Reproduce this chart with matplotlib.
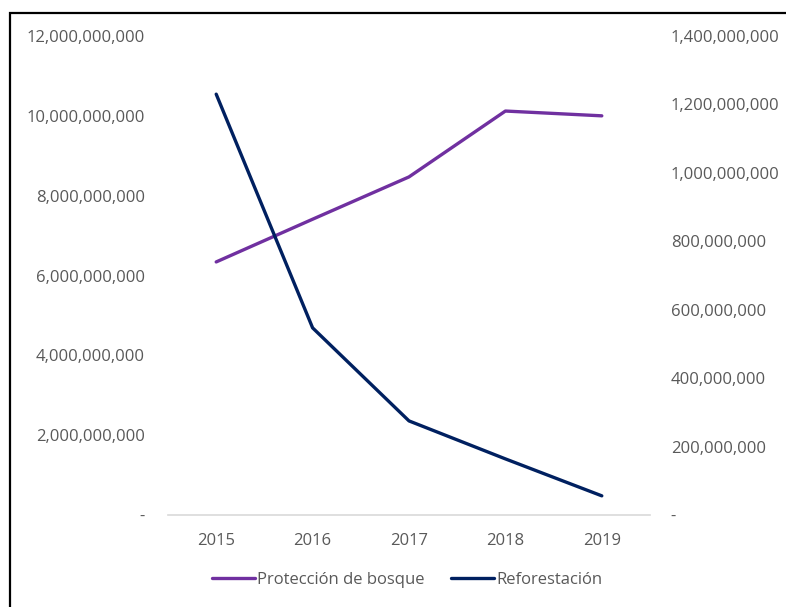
import matplotlib
matplotlib.use("Agg")
import matplotlib.pyplot as plt
from matplotlib.patches import Rectangle
from matplotlib.ticker import FuncFormatter, FixedLocator

# ---------------------------------------------------------------------------
# Data
# ---------------------------------------------------------------------------
years = ["2015", "2016", "2017", "2018", "2019"]
proteccion = [6.34e9, 7.41e9, 8.47e9, 10.12e9, 10.00e9]     # left axis
reforestacion = [1.230e9, 0.547e9, 0.275e9, 0.164e9, 0.056e9]  # right axis

left_ticks = [0, 2e9, 4e9, 6e9, 8e9, 10e9, 12e9]
right_ticks = [0, 2e8, 4e8, 6e8, 8e8, 10e8, 12e8, 14e8]

PURPLE = "#7030A0"
NAVY = "#002060"
GREY_TXT = "#595959"

plt.rcParams["font.family"] = ["Open Sans", "DejaVu Sans"]


def fmt(v, _pos=None):
    return "-" if v == 0 else f"{v:,.0f}"


fig = plt.figure(figsize=(7.86, 6.07), dpi=100)
ax = fig.add_axes([168 / 786, 1 - 515 / 607, (650 - 168) / 786, (515 - 36) / 607])
ax2 = ax.twinx()

x = list(range(len(years)))
ax.plot(x, proteccion, color=PURPLE, lw=2.4, solid_capstyle="round",
        label="Protección de bosque", zorder=3)
ax2.plot(x, reforestacion, color=NAVY, lw=2.4, solid_capstyle="round",
         label="Reforestación", zorder=3)

ax.set_xlim(-0.5, len(years) - 0.5)
ax.set_ylim(0, 12e9)
ax2.set_ylim(0, 14e8)
ax.yaxis.set_major_locator(FixedLocator(left_ticks))
ax2.yaxis.set_major_locator(FixedLocator(right_ticks))
ax.yaxis.set_major_formatter(FuncFormatter(fmt))
ax2.yaxis.set_major_formatter(FuncFormatter(fmt))
ax.set_xticks(x)
ax.set_xticklabels(years)

for a in (ax, ax2):
    for side in ("top", "left", "right", "bottom"):
        a.spines[side].set_visible(False)
    a.tick_params(length=0, labelsize=12, labelcolor=GREY_TXT)
ax.tick_params(axis="y", pad=16.5)
ax2.tick_params(axis="y", pad=15)
ax.tick_params(axis="x", pad=13)
ax.spines["bottom"].set_visible(True)
ax.spines["bottom"].set_color("#d9d9d9")
ax.spines["bottom"].set_linewidth(1.2)

h1, l1 = ax.get_legend_handles_labels()
h2, l2 = ax2.get_legend_handles_labels()
fig.legend(h1 + h2, l1 + l2, loc="center", ncol=2,
           bbox_to_anchor=(407 / 786, 1 - 580 / 607),
           frameon=False, fontsize=12, handlelength=2.6, handletextpad=0.1,
           columnspacing=1.6, labelcolor=GREY_TXT)

# chart frame (runs off the right and bottom edges like the reference)
fig.patches.append(Rectangle((9.5 / 786, -0.05), 1.1, 1 - 12.5 / 607 + 0.05,
                             transform=fig.transFigure, fill=False,
                             edgecolor="black", lw=1.6))

fig.savefig("out.png", dpi=100)
